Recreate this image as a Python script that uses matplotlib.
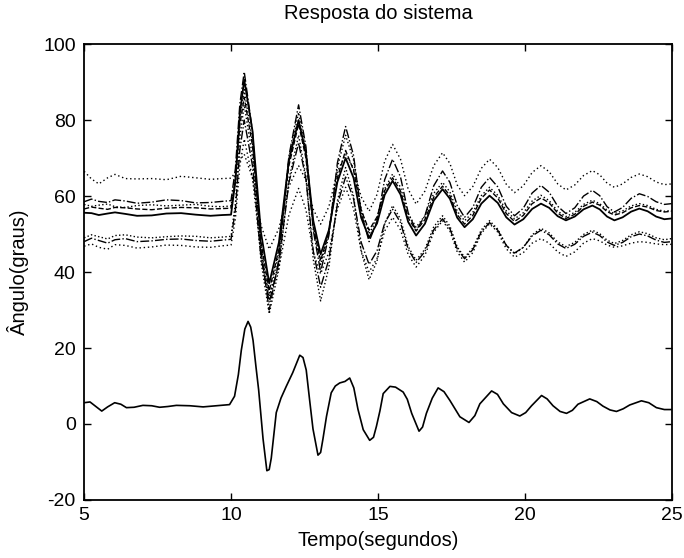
import matplotlib
matplotlib.use("Agg")
import matplotlib.pyplot as plt

plt.rcParams['font.family'] = ['Liberation Sans', 'DejaVu Sans']
plt.rcParams['axes.unicode_minus'] = False

# time grid shared by the upper group of curves
t_up = [5.0, 5.25, 5.5, 5.8, 6.05, 6.4, 6.8, 7.3, 7.8, 8.3, 8.8, 9.3, 9.7, 10.0,
        10.15, 10.3, 10.45,
        10.73, 11.02, 11.3, 11.63, 11.97, 12.3, 12.55, 12.8, 13.05,
        13.33, 13.62, 13.9, 14.17, 14.43, 14.7, 14.97, 15.23, 15.5,
        15.77, 16.03, 16.3, 16.6, 16.9, 17.2, 17.45, 17.7, 17.95,
        18.23, 18.52, 18.8, 19.08, 19.37, 19.65, 19.95, 20.25, 20.55,
        20.83, 21.12, 21.4, 21.7, 22.0, 22.3, 22.55, 22.8, 23.05,
        23.33, 23.62, 23.9, 24.18, 24.47, 24.75, 25.0]

ang1 = [66.5, 64.5, 63.2, 64.8, 65.7, 64.6, 64.5, 64.6, 64.3, 65.2, 64.8, 64.4, 64.6, 64.7,
        66.3, 69.4, 71.0,
        64.8, 52.3, 46.0, 51.5, 62.5, 68.0, 64.2, 56.5, 52.6,
        57.2, 66.4, 71.0, 67.3, 59.8, 56.0, 60.4, 69.2, 73.6,
        69.7, 61.8, 57.9, 61.3, 68.0, 71.4, 68.6, 62.9, 60.1,
        62.5, 67.3, 69.7, 67.5, 63.1, 60.9, 62.7, 66.2, 68.0,
        66.4, 63.2, 61.6, 62.9, 65.4, 66.7, 65.6, 63.4, 62.3,
        63.2, 64.9, 65.8, 65.1, 63.7, 63.0, 63.2]
ang2 = [58.5, 59.2, 58.6, 58.3, 59.0, 58.7, 58.1, 58.4, 59.0, 58.8, 58.2, 58.3, 58.6, 58.8,
        67.3, 84.2, 92.7,
        77.0, 45.7, 30.0, 43.5, 70.5, 84.0, 73.0, 51.0, 40.0,
        49.6, 68.7, 78.3, 70.7, 55.6, 48.0, 53.4, 64.3, 69.7,
        65.0, 55.6, 50.9, 54.8, 62.7, 66.6, 63.6, 57.5, 54.4,
        57.0, 62.3, 64.9, 62.4, 57.3, 54.8, 56.8, 60.8, 62.8,
        61.0, 57.3, 55.4, 56.9, 60.0, 61.5, 60.1, 57.2, 55.8,
        57.0, 59.4, 60.6, 59.9, 58.5, 57.8, 58.0]
ang3 = [57.8, 57.3, 57.6, 57.9, 57.2, 57.0, 57.5, 57.7, 57.4, 57.6, 57.8, 57.3, 57.2, 57.4,
        65.1, 80.4, 88.0,
        74.3, 46.8, 33.0, 45.3, 69.8, 82.0, 72.0, 52.0, 42.0,
        50.5, 67.5, 76.0, 69.5, 56.5, 50.0, 54.0, 61.9, 65.8,
        62.3, 55.3, 51.8, 54.8, 60.7, 63.6, 61.1, 56.0, 53.5,
        55.7, 60.1, 62.3, 60.2, 56.1, 54.0, 55.6, 58.7, 60.2,
        58.8, 56.0, 54.6, 55.7, 57.8, 58.9, 58.0, 56.3, 55.4,
        56.1, 57.4, 58.0, 57.5, 56.5, 56.0, 56.2]
ang4 = [56.6, 57.1, 56.8, 56.5, 57.0, 56.9, 56.6, 56.4, 56.8, 57.0, 56.9, 56.6, 56.7, 56.8,
        64.1, 78.7, 86.0,
        73.3, 47.8, 35.0, 46.0, 68.0, 79.0, 70.0, 52.0, 43.0,
        50.3, 64.8, 72.0, 66.8, 56.3, 51.0, 54.5, 61.4, 64.8,
        61.3, 54.3, 50.8, 53.8, 59.7, 62.6, 60.1, 55.1, 52.6,
        54.9, 59.4, 61.6, 59.5, 55.4, 53.3, 54.9, 58.0, 59.5,
        58.2, 55.5, 54.1, 55.2, 57.3, 58.4, 57.6, 55.9, 55.0,
        55.6, 56.9, 57.5, 57.1, 56.2, 55.8, 56.0]
ang5 = [55.6, 55.5, 55.0, 55.4, 55.7, 55.3, 54.8, 54.9, 55.4, 55.5, 55.1, 54.8, 55.0, 55.1,
        64.0, 81.7, 90.6,
        77.2, 50.4, 37.0, 47.8, 69.3, 80.0, 71.2, 53.5, 44.7,
        51.0, 63.7, 70.0, 64.8, 54.3, 49.0, 52.8, 60.3, 64.0,
        60.4, 53.2, 49.6, 52.7, 58.8, 61.8, 59.3, 54.3, 51.8,
        53.9, 58.0, 60.1, 58.2, 54.4, 52.5, 53.9, 56.6, 58.0,
        56.9, 54.7, 53.6, 54.6, 56.5, 57.5, 56.5, 54.6, 53.6,
        54.4, 55.9, 56.7, 56.0, 54.6, 53.9, 54.1]
ang6 = [49.0, 49.8, 49.3, 48.7, 49.6, 49.8, 49.2, 49.0, 49.3, 49.5, 49.4, 49.0, 49.2, 49.4,
        58.1, 75.4, 84.0,
        70.3, 42.8, 29.0, 40.8, 64.3, 76.0, 65.1, 43.3, 32.4,
        41.2, 58.7, 67.5, 60.1, 45.4, 38.0, 42.9, 52.6, 57.5,
        53.9, 46.7, 43.1, 46.0, 51.9, 54.8, 52.1, 46.6, 43.9,
        46.3, 51.1, 53.5, 51.3, 47.0, 44.8, 46.5, 49.8, 51.5,
        50.3, 47.9, 46.7, 47.8, 49.9, 51.0, 50.1, 48.4, 47.5,
        48.3, 49.8, 50.6, 50.1, 49.0, 48.5, 48.8]
ang7 = [48.0, 48.9, 48.3, 47.6, 48.5, 48.8, 48.0, 48.2, 48.6, 48.7, 48.3, 48.1, 48.4, 48.6,
        56.5, 72.2, 80.0,
        68.0, 44.0, 32.0, 42.5, 63.5, 74.0, 64.5, 45.5, 36.0,
        43.3, 57.8, 65.0, 59.3, 47.8, 42.0, 45.6, 52.9, 56.5,
        53.0, 46.0, 42.5, 45.4, 51.1, 54.0, 51.4, 46.1, 43.5,
        45.9, 50.6, 53.0, 51.0, 47.0, 45.0, 46.5, 49.5, 51.0,
        49.8, 47.4, 46.2, 47.3, 49.4, 50.5, 49.6, 47.9, 47.0,
        47.8, 49.3, 50.0, 49.5, 48.4, 47.8, 48.0]
ang8 = [46.8, 47.4, 46.5, 46.0, 47.2, 47.0, 46.3, 46.6, 47.1, 47.0, 46.6, 46.5, 46.9, 47.1,
        54.1, 68.0, 75.0,
        64.8, 44.3, 34.0, 41.0, 55.0, 62.0, 56.4, 45.1, 39.5,
        45.2, 56.6, 62.3, 56.7, 45.6, 40.0, 43.6, 50.8, 54.4,
        51.1, 44.6, 41.3, 44.4, 50.5, 53.5, 50.8, 45.3, 42.6,
        45.1, 50.2, 52.7, 50.5, 46.1, 43.9, 45.1, 47.6, 48.8,
        47.6, 45.3, 44.1, 45.3, 47.6, 48.8, 48.2, 47.1, 46.5,
        46.9, 47.6, 48.0, 47.8, 47.4, 47.2, 47.3]

# lower curve (angle difference)
t_low = [5.0, 5.2, 5.4, 5.6, 5.8, 6.04, 6.25, 6.44, 6.7, 7.0, 7.3, 7.57, 7.85, 8.14,
         8.6, 9.05, 9.5, 9.95, 10.12, 10.25, 10.35, 10.47, 10.58, 10.67, 10.75, 10.85,
         10.94, 11.09, 11.22, 11.3, 11.37, 11.54, 11.7, 11.88, 12.1, 12.34, 12.45, 12.56,
         12.68, 12.79, 12.96, 13.05, 13.13, 13.25, 13.41, 13.55, 13.7, 13.88, 14.04, 14.18,
         14.32, 14.5, 14.72, 14.85, 14.95, 15.07, 15.18, 15.41, 15.6, 15.86, 16.0, 16.15,
         16.4, 16.52, 16.65, 16.85, 17.05, 17.25, 17.45, 17.79, 18.1, 18.3, 18.47, 18.87,
         19.07, 19.27, 19.55, 19.83, 20.03, 20.23, 20.57, 20.76, 20.96, 21.2, 21.42, 21.62,
         21.81, 22.21, 22.45, 22.66, 22.9, 23.12, 23.35, 23.57, 23.97, 24.22, 24.48, 24.75, 25.0]
ang_low = [5.6, 5.8, 4.6, 3.4, 4.5, 5.6, 5.2, 4.3, 4.4, 4.9, 4.8, 4.4, 4.6, 4.9,
           4.8, 4.5, 4.8, 5.1, 7.3, 13.0, 19.4, 25.0, 27.0, 25.5, 22.0, 15.0,
           9.0, -3.9, -12.3, -12.0, -9.0, 3.0, 6.8, 9.9, 13.5, 18.1, 17.5, 14.2,
           6.0, -1.3, -8.2, -7.5, -3.9, 2.0, 8.2, 10.0, 10.8, 11.2, 12.1, 9.5,
           3.9, -1.5, -4.3, -3.5, -0.6, 3.5, 8.0, 9.9, 9.7, 8.4, 6.5, 2.8,
           -1.9, -0.8, 2.8, 6.8, 9.5, 8.5, 6.2, 1.9, 0.4, 2.2, 5.3, 8.7,
           7.8, 5.3, 3.0, 2.1, 3.0, 4.8, 7.5, 6.6, 4.8, 3.3, 2.8, 3.6,
           5.2, 6.6, 5.9, 4.7, 3.7, 3.3, 4.0, 5.0, 6.1, 5.6, 4.3, 3.8, 3.8]

fig = plt.figure(figsize=(6.84, 5.58), dpi=100)
ax = fig.add_axes([0.123, 0.104, 0.859, 0.817])

ax.plot(t_up, ang1, color='k', lw=1.0, ls=(0, (1, 2)))
ax.plot(t_up, ang2, color='k', lw=1.0, ls='-.')
ax.plot(t_up, ang3, color='k', lw=1.0, ls=':')
ax.plot(t_up, ang4, color='k', lw=1.0, ls='--')
ax.plot(t_up, ang5, color='k', lw=1.3, ls='-')
ax.plot(t_up, ang6, color='k', lw=1.0, ls=':')
ax.plot(t_up, ang7, color='k', lw=1.0, ls='-.')
ax.plot(t_up, ang8, color='k', lw=1.0, ls=(0, (1, 2)))
ax.plot(t_low, ang_low, color='k', lw=1.2, ls='-')

ax.set_xlim(5, 25)
ax.set_ylim(-20, 100)
ax.set_xticks([5, 10, 15, 20, 25])
ax.set_yticks([-20, 0, 20, 40, 60, 80, 100])
ax.tick_params(direction='in', top=True, right=True, labelsize=14, length=5, width=1)
ax.tick_params(axis='x', pad=5)
ax.tick_params(axis='y', pad=6)
for s in ax.spines.values():
    s.set_linewidth(1.3)

ax.set_title('Resposta do sistema', fontsize=14.5, pad=18)
ax.set_xlabel('Tempo(segundos)', fontsize=14.5, labelpad=5)
ax.set_ylabel('Ângulo(graus)', fontsize=14.5, labelpad=10)

fig.savefig('out.png', dpi=100)
